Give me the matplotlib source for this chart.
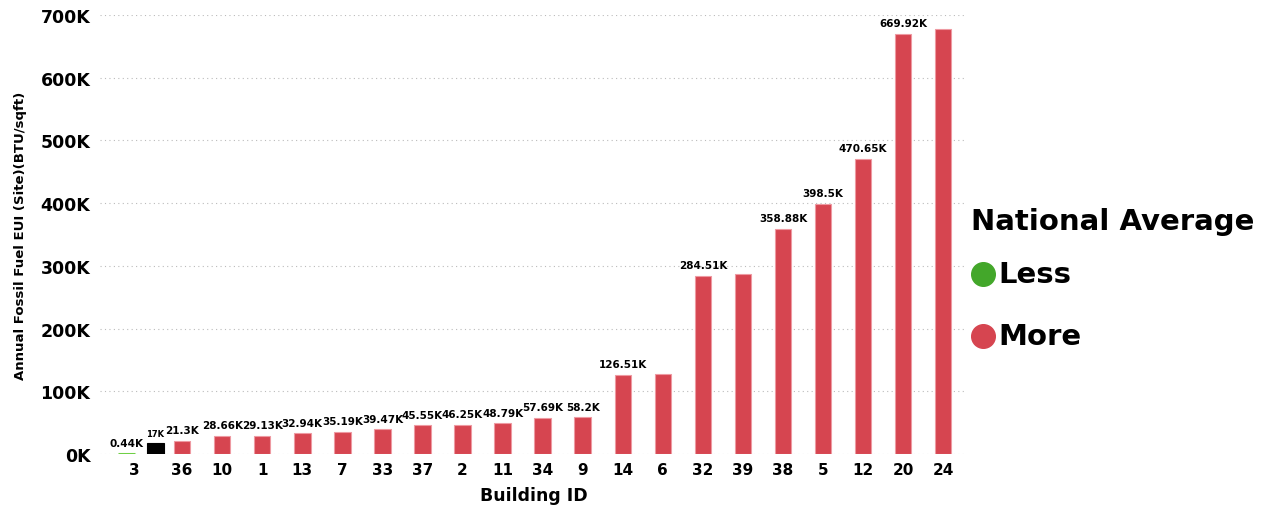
import numpy as np
import matplotlib.pyplot as plt
from matplotlib.lines import Line2D

plt.rcParams['font.family'] = ['DejaVu Sans']

# building IDs in drawing order (the black bar has no tick label)
building_ids = ['3', '', '36', '10', '1', '13', '7', '33', '37', '2', '11', '34',
                '9', '14', '6', '32', '39', '38', '5', '12', '20', '24']
eui_k = [0.44, 17, 21.3, 28.66, 29.13, 32.94, 35.19, 39.47, 45.55, 46.25, 48.79,
         57.69, 58.2, 126.51, 126.8, 284.51, 286.5, 358.88, 398.5, 470.65, 669.92, 677.0]
value_labels = ['0.44K', '17K', '21.3K', '28.66K', '29.13K', '32.94K', '35.19K',
                '39.47K', '45.55K', '46.25K', '48.79K', '57.69K', '58.2K', '126.51K',
                None, '284.51K', None, '358.88K', '398.5K', '470.65K', '669.92K', None]
groups = ['less', 'avg'] + ['more'] * 20

colors = {'less': '#7ED957', 'avg': '#000000', 'more': '#D64550'}
edges = {'less': '#6FD046', 'avg': '#000000', 'more': '#EE9AA2'}

# the first two bars sit a bit closer together than the rest
x = np.arange(len(building_ids), dtype=float)
x[0] = 0.61
x[1] = 1.33
tick_x = x.copy()
tick_x[0] = 0.8

fig = plt.figure(figsize=(12.66, 5.06), dpi=100)
ax = fig.add_axes([0.079, 0.1008, 0.685, 0.8676])

values = np.array(eui_k) * 1000
for xi, v, g in zip(x, values, groups):
    lw = 2.2 if g == 'less' else 0.8
    ax.bar(xi, v, width=0.41, color=colors[g], edgecolor=edges[g], linewidth=lw,
           zorder=3)

for xi, v, lab, g in zip(x, values, value_labels, groups):
    if lab is None:
        continue
    fs = 6 if g == 'avg' else 7.5
    ax.text(xi, v + 9000, lab, ha='center', va='bottom', fontsize=fs,
            fontweight='bold', color='black')

ax.set_xlim(-0.05, 21.6)
ax.set_ylim(0, 700000)
yt = np.arange(0, 700001, 100000)
ax.set_yticks(yt)
ax.set_yticklabels([f'{int(v / 1000)}K' for v in yt], fontsize=12.5, fontweight='bold')
ax.set_xticks(tick_x[[i for i, b in enumerate(building_ids) if b]])
ax.set_xticklabels([b for b in building_ids if b], fontsize=11, fontweight='bold')
ax.tick_params(length=0, pad=6)
ax.tick_params(axis='y', pad=7)
ax.grid(axis='y', linestyle=(0, (1, 3)), color='#BBBBBB', linewidth=0.8, zorder=0)
for s in ax.spines.values():
    s.set_visible(False)

ax.set_xlabel('Building ID', fontsize=12.5, fontweight='bold', labelpad=6)
ax.set_ylabel('Annual Fossil Fuel EUI (Site)(BTU/sqft)', fontsize=9.5,
              fontweight='bold', labelpad=10)

# legend drawn by hand on the right
fig.text(0.767, 0.562, 'National Average', fontsize=21, fontweight='bold',
         va='center', ha='left')
fig.add_artist(Line2D([0.7765], [0.456], marker='o', markersize=17,
                      color='#43A72A', transform=fig.transFigure))
fig.text(0.789, 0.456, 'Less', fontsize=21, fontweight='bold', va='center')
fig.add_artist(Line2D([0.7765], [0.334], marker='o', markersize=17,
                      color='#D64550', transform=fig.transFigure))
fig.text(0.789, 0.334, 'More', fontsize=21, fontweight='bold', va='center')

fig.savefig('out.png', dpi=100)
